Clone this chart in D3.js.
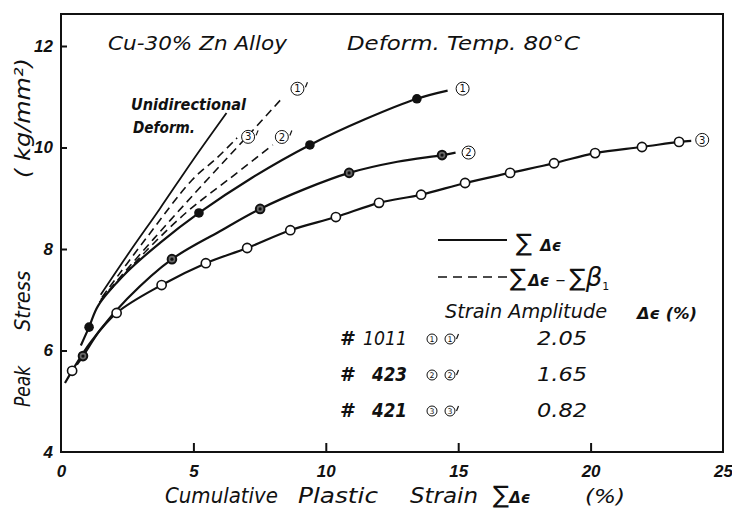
<!DOCTYPE html>
<html>
<head>
<meta charset="utf-8">
<title>Cu-30%Zn peak stress</title>
<style>
  body { margin: 0; background: #fff; }
  svg { display: block; font-family: "DejaVu Sans", "Liberation Sans", sans-serif; }
  text { fill: #111; }
  .tick text { font-size: 17px; font-style: italic; font-weight: bold; }
</style>
</head>
<body>
<script src="https://cdn.jsdelivr.net/npm/d3@7/dist/d3.min.js"></script>
<script>
var width = 732, height = 510;

// tick labels
var xTicks = [0, 5, 10, 15, 20, 25];
var yTicks = [4, 6, 8, 10, 12];

// ① 2.05% : sum of plastic strain, solid line + filled markers
var curve1Line = [[0.75,6.1],[1.06,6.46],[1.4,6.88],[2.5,7.55],[3.74,8.12],[5.21,8.71],[7.2,9.4],[9.4,10.05],[11.5,10.56],[13.44,10.96],[14.6,11.12]];
var curve1Marks = [[1.06,6.46],[5.21,8.71],[9.4,10.05],[13.44,10.96]];
// ② 1.65%
var curve2Line = [[0.6,5.72],[0.83,5.89],[1.5,6.42],[2.5,7.02],[4.19,7.8],[6.0,8.35],[7.52,8.79],[9.2,9.18],[10.88,9.5],[12.7,9.72],[14.39,9.85],[14.9,9.9]];
var curve2Marks = [[0.83,5.89],[4.19,7.8],[7.52,8.79],[10.88,9.5],[14.39,9.85]];
// ③ 0.82%
var curve3Line = [[0.15,5.36],[0.42,5.6],[1.1,6.15],[2.1,6.74],[3.8,7.29],[5.47,7.72],[7.03,8.02],[8.66,8.37],[10.38,8.63],[12.01,8.91],[13.6,9.07],[15.26,9.3],[16.96,9.5],[18.62,9.69],[20.17,9.89],[21.94,10.01],[23.34,10.11],[23.8,10.13]];
var curve3Marks = [[0.42,5.6],[2.1,6.74],[3.8,7.29],[5.47,7.72],[7.03,8.02],[8.66,8.37],[10.38,8.63],[12.01,8.91],[13.6,9.07],[15.26,9.3],[16.96,9.5],[18.62,9.69],[20.17,9.89],[21.94,10.01],[23.34,10.11]];

// dashed: sum(de) - sum(beta1)
var curve1Prime = [[1.5,7.0],[3.5,8.2],[5.51,9.36],[7.0,10.2],[8.4,11.0]];
var curve2Prime = [[1.45,6.95],[3.25,7.98],[4.8,8.75],[6.3,9.36],[8.0,10.05]];
var curve3Prime = [[1.55,7.05],[3.2,8.2],[4.95,9.36],[5.9,9.8],[6.65,10.19]];
// unidirectional deformation
var uniLine = [[1.5,7.1],[2.6,7.95],[3.74,8.8],[4.98,9.75],[6.25,10.68]];

// specimen table
var specimens = ["1011", "423", "421"];
var curveIds = ["1", "2", "3"];
var amplitudes = ["2.05", "1.65", "0.82"];

var svg = d3.select("body").append("svg")
  .attr("width", width).attr("height", height);
svg.append("rect").attr("width", width).attr("height", height).attr("fill", "#fff");

var x = d3.scaleLinear().domain([0, 25]).range([61, 723]);
var y = d3.scaleLinear().domain([4, 12]).range([452, 46]);

// frame
svg.append("rect")
  .attr("x", 61).attr("y", 14).attr("width", 662).attr("height", 438)
  .attr("fill", "none").attr("stroke", "#111").attr("stroke-width", 2);

var gx = svg.append("g").attr("transform", "translate(0,452)")
  .call(d3.axisBottom(x).tickValues(xTicks).tickSizeInner(-9).tickSizeOuter(0)
    .tickPadding(13).tickFormat(d3.format("d")));
gx.select(".domain").remove();
gx.selectAll(".tick line").attr("stroke", "#111").attr("stroke-width", 2)
  .filter(function(d) { return d == 0 || d == 25; }).remove();

var gy = svg.append("g").attr("transform", "translate(61,0)")
  .call(d3.axisLeft(y).tickValues(yTicks).tickSizeInner(-6).tickSizeOuter(0)
    .tickPadding(8).tickFormat(d3.format("d")));
gy.select(".domain").remove();
gy.selectAll(".tick line").attr("stroke", "#111").attr("stroke-width", 2)
  .filter(function(d) { return d == 4; }).remove();

var line = d3.line()
  .x(function(d) { return x(d[0]); })
  .y(function(d) { return y(d[1]); })
  .curve(d3.curveCatmullRom.alpha(0.5));

function drawLine(data, dashed, w) {
  svg.append("path").datum(data).attr("d", line)
    .attr("fill", "none").attr("stroke", "#111")
    .attr("stroke-width", w)
    .attr("stroke-dasharray", dashed ? "8,5" : null);
}

drawLine(uniLine, false, 1.8);
drawLine(curve3Prime, true, 1.6);
drawLine(curve1Prime, true, 1.6);
drawLine(curve2Prime, true, 1.6);
drawLine(curve1Line, false, 2.2);
drawLine(curve2Line, false, 2.2);
drawLine(curve3Line, false, 2.2);

// markers
svg.selectAll(".m1").data(curve1Marks).enter().append("circle")
  .attr("cx", function(d) { return x(d[0]); })
  .attr("cy", function(d) { return y(d[1]); })
  .attr("r", 4.8).attr("fill", "#111");

svg.selectAll(".m2").data(curve2Marks).enter().append("circle")
  .attr("cx", function(d) { return x(d[0]); })
  .attr("cy", function(d) { return y(d[1]); })
  .attr("r", 4.3).attr("fill", "#666").attr("stroke", "#111").attr("stroke-width", 2);
svg.selectAll(".m2d").data(curve2Marks).enter().append("circle")
  .attr("cx", function(d) { return x(d[0]); })
  .attr("cy", function(d) { return y(d[1]); })
  .attr("r", 1.6).attr("fill", "#111");

svg.selectAll(".m3").data(curve3Marks).enter().append("circle")
  .attr("cx", function(d) { return x(d[0]); })
  .attr("cy", function(d) { return y(d[1]); })
  .attr("r", 4.6).attr("fill", "#fff").attr("stroke", "#111").attr("stroke-width", 1.6);

// circled number label, prime drawn as a small stroke
function circled(cx, cy, num, prime, r) {
  svg.append("circle").attr("cx", cx).attr("cy", cy).attr("r", r)
    .attr("fill", "#fff").attr("stroke", "#111").attr("stroke-width", 1);
  svg.append("text").attr("x", cx).attr("y", cy).attr("dy", "0.36em")
    .attr("text-anchor", "middle").style("font-size", (r * 1.55) + "px")
    .text(num);
  if (prime) {
    svg.append("line")
      .attr("x1", cx + r + 3.5).attr("y1", cy - r)
      .attr("x2", cx + r + 1.5).attr("y2", cy - r + 5)
      .attr("stroke", "#111").attr("stroke-width", 1.2);
  }
}

function endOf(data) { var p = data[data.length - 1]; return [x(p[0]), y(p[1])]; }

var e;
e = endOf(curve1Line); circled(e[0] + 15, e[1] - 2, "1", false, 6.5);
e = endOf(curve2Line); circled(e[0] + 13, e[1], "2", false, 6.5);
e = endOf(curve3Line); circled(e[0] + 11, e[1] - 1, "3", false, 6.5);
e = endOf(curve1Prime); circled(e[0] + 14, e[1] - 8, "1", true, 6.5);
e = endOf(curve2Prime); circled(e[0] + 9, e[1] - 8, "2", true, 6.5);
e = endOf(curve3Prime); circled(e[0] + 11, e[1] - 1, "3", true, 6.5);

// texts
function txt(xp, yp, s, size, len, style, weight) {
  var t = svg.append("text").attr("x", xp).attr("y", yp)
    .style("font-size", size + "px")
    .style("font-style", style || "italic")
    .style("font-weight", weight || "normal")
    .text(s);
  if (len) t.attr("textLength", len).attr("lengthAdjust", "spacingAndGlyphs");
  return t;
}

txt(108, 50, "Cu-30% Zn Alloy", 20, 179);
txt(347, 50, "Deform. Temp.  80°C", 20, 233);
txt(131, 110, "Unidirectional", 15, 115, "italic", "bold");
txt(133, 133, "Deform.", 15, 62, "italic", "bold");

// y title
function vtxt(xp, yp, s, size, len) {
  svg.append("text").attr("transform", "translate(" + xp + "," + yp + ") rotate(-90)")
    .style("font-size", size + "px").style("font-style", "italic")
    .attr("textLength", len).attr("lengthAdjust", "spacingAndGlyphs")
    .text(s);
}
vtxt(30, 407, "Peak", 22, 41);
vtxt(30, 331, "Stress", 22, 60);
vtxt(30, 178, "( kg/mm\u00b2)", 22, 120);

// x title
txt(165, 503, "Cumulative", 21, 113);
txt(298, 503, "Plastic", 21, 80);
txt(410, 503, "Strain", 21, 68);
var xs = svg.append("text").attr("x", 493).attr("y", 503).style("font-style", "italic");
xs.append("tspan").style("font-size", "24px").style("font-style", "normal").text("\u2211");
xs.append("tspan").style("font-size", "15px").style("font-weight", "bold").text("\u0394\u03f5");
txt(585, 503, "(%)", 20, 40);

// legend
svg.append("line").attr("x1", 438).attr("x2", 507).attr("y1", 240).attr("y2", 240)
  .attr("stroke", "#111").attr("stroke-width", 2);
svg.append("line").attr("x1", 438).attr("x2", 507).attr("y1", 277).attr("y2", 277)
  .attr("stroke", "#111").attr("stroke-width", 1.6).attr("stroke-dasharray", "9,6");

var l1 = svg.append("text").attr("x", 516).attr("y", 251);
l1.append("tspan").style("font-size", "24px").text("\u2211");
l1.append("tspan").attr("dx", 8).style("font-size", "15px").style("font-weight", "bold").style("font-style", "italic").text("\u0394\u03f5");

var l2 = svg.append("text").attr("x", 510).attr("y", 286);
l2.append("tspan").style("font-size", "24px").text("\u2211");
l2.append("tspan").attr("dx", 2).style("font-size", "15px").style("font-weight", "bold").style("font-style", "italic").text("\u0394\u03f5");
l2.append("tspan").attr("dx", 6).style("font-size", "20px").text("\u2013");
l2.append("tspan").attr("dx", 4).style("font-size", "24px").text("\u2211");
l2.append("tspan").style("font-size", "26px").style("font-style", "italic").text("\u03b2");
l2.append("tspan").attr("dy", 4).style("font-size", "11px").text("1");

txt(445, 318, "Strain Amplitude", 19, 162);
txt(637, 319, "\u0394\u03f5 (%)", 15, 60, "italic", "bold");

var rowY = d3.scaleLinear().domain([0, 2]).range([345, 417]);
specimens.forEach(function(s, i) {
  var yy = rowY(i);
  txt(340, yy, "#", 19, null, "normal", "bold");
  txt(s.length == 4 ? 363 : 372, yy, s, 19, s.length == 4 ? 44 : 35, "italic", s.length == 4 ? "normal" : "bold");
  circled(432, yy - 6, curveIds[i], false, 5);
  circled(450, yy - 6, curveIds[i], true, 5);
  txt(537, yy, amplitudes[i], 19, 50);
});
</script>
</body>
</html>
